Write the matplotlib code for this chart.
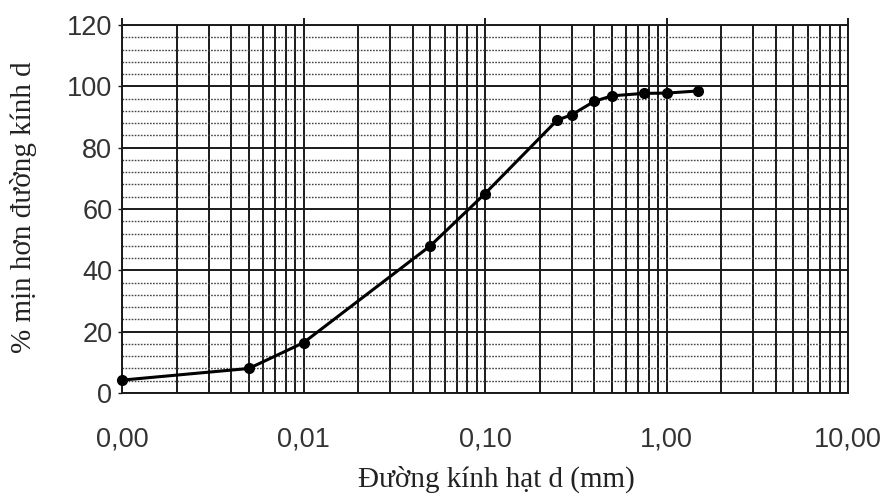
import matplotlib
matplotlib.use("Agg")
import matplotlib.pyplot as plt
from matplotlib.ticker import FixedLocator, LogLocator, NullFormatter

# Data
diameter_mm = [0.001, 0.005, 0.01, 0.05, 0.1, 0.25, 0.3, 0.4, 0.5, 0.75, 1.0, 1.5]
percent_finer = [4.2, 8.0, 16.4, 48.0, 65.0, 89.0, 90.7, 95.1, 96.9, 97.7, 97.8, 98.5]

x_tick_values = [0.001, 0.01, 0.1, 1.0, 10.0]
x_tick_labels = ["0,00", "0,01", "0,10", "1,00", "10,00"]
y_tick_values = [0, 20, 40, 60, 80, 100, 120]

x_label = "Đường kính hạt d (mm)"
y_label = "% mịn hơn đường kính d"

fig = plt.figure(figsize=(8.9, 4.99), dpi=100)
ax = fig.add_axes([122 / 890, 1 - 393 / 499, (848 - 122) / 890, (393 - 25) / 499])

ax.set_xscale("log")
ax.set_xlim(0.001, 10)
ax.set_ylim(0, 120)

# grid
ax.xaxis.set_major_locator(FixedLocator(x_tick_values))
ax.xaxis.set_minor_locator(LogLocator(base=10, subs=range(2, 10), numticks=20))
ax.xaxis.set_minor_formatter(NullFormatter())
ax.set_xticklabels(x_tick_labels)
ax.set_yticks(y_tick_values)
ax.yaxis.set_minor_locator(FixedLocator([v for v in range(0, 121, 4) if v % 20 != 0]))

ax.grid(which="major", axis="both", color="#1a1a1a", linewidth=1.4)
ax.grid(which="minor", axis="x", color="#1a1a1a", linewidth=1.4)
ax.grid(which="minor", axis="y", color="#444444", linewidth=1.0, linestyle=(0, (1.2, 1.0)))

ax.plot(diameter_mm, percent_finer, color="black", linewidth=2.2,
        marker="o", markersize=7, zorder=5, clip_on=False)

for s in ax.spines.values():
    s.set_color("#1a1a1a")
    s.set_linewidth(1.4)

ax.tick_params(axis="x", which="major", top=True, bottom=False, direction="out",
               length=5, width=1.4, labelsize=19.5, pad=19, colors="#1a1a1a")
ax.tick_params(axis="x", which="minor", top=False, bottom=False, length=0)
ax.tick_params(axis="y", which="major", left=True, length=3, width=1.0,
               labelsize=19.5, pad=4, colors="#1a1a1a")
ax.tick_params(axis="y", which="minor", left=False, length=0)
for lbl in ax.get_xticklabels() + ax.get_yticklabels():
    lbl.set_family("Liberation Sans")
    lbl.set_color("#333333")
ax.set_axisbelow(True)

fig.text(496 / 890, 1 - 479 / 499, x_label, ha="center", va="center",
         fontsize=21, family="Liberation Serif", color="#222222")
fig.text(24 / 890, 1 - 207 / 499, y_label, ha="center", va="center", rotation=90,
         fontsize=21, family="Liberation Serif", color="#222222")

fig.savefig("out.png", dpi=100, facecolor="white")
